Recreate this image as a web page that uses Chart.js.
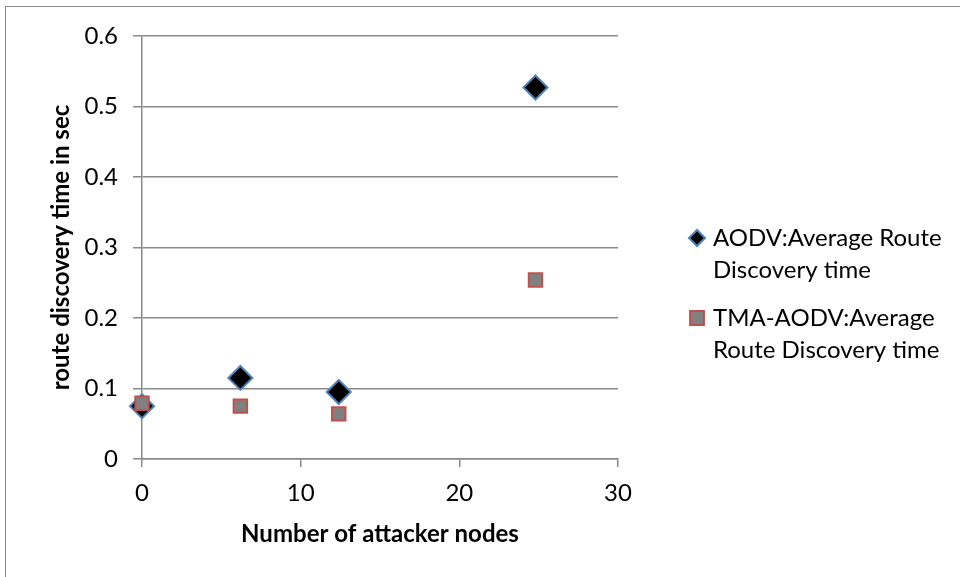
<!DOCTYPE html>
<html>
<head>
<meta charset="utf-8">
<script src="https://cdn.jsdelivr.net/npm/chart.js@4.4.1/dist/chart.umd.min.js"></script>
<style>
  html, body { margin: 0; padding: 0; background: #fff; }
  #wrap { position: relative; width: 960px; height: 577px; }
</style>
</head>
<body>
<div id="wrap"><canvas id="c" width="960" height="577"></canvas></div>
<script>
// Attacker node counts and average route discovery times (seconds)
const attackerNodes = [0, 6.2, 12.4, 24.8];
const aodvTimes = [0.075, 0.115, 0.095, 0.527];
const tmaAodvTimes = [0.079, 0.075, 0.064, 0.254];

const seriesNames = [
  ['AODV:Average Route', 'Discovery time'],
  ['TMA-AODV:Average', 'Route Discovery time']
];
const yTickLabels = ['0', '0.1', '0.2', '0.3', '0.4', '0.5', '0.6'];
const xTitle = 'Number of attacker nodes';
const yTitle = 'route discovery time in sec';

const FONT = 'Lato, "Open Sans", sans-serif';
const GRID = '#898989';

const toPoints = (xs, ys) => xs.map((x, i) => ({ x: x, y: ys[i] }));

const styles = [
  { pointStyle: 'rectRot', backgroundColor: '#000000', borderColor: '#4f81bd', radius: 12, borderWidth: 2 },
  { pointStyle: 'rect', backgroundColor: '#808080', borderColor: '#c0504d', radius: 9.5, borderWidth: 2 }
];

// Frame around the chart and the wrapped legend on the right
const decorations = {
  id: 'decorations',
  beforeDraw(chart) {
    const ctx = chart.ctx;
    ctx.save();
    ctx.strokeStyle = '#8a8a8a';
    ctx.lineWidth = 1;
    ctx.strokeRect(5.5, 6.5, 1000, 1000);
    ctx.restore();
  },
  afterDraw(chart) {
    const ctx = chart.ctx;
    ctx.save();
    const legendX = 697, textX = 713;
    const entryTop = [238, 318];
    const lineGap = 32;
    const legendMarkers = [
      { pointStyle: 'rectRot', radius: 8, borderWidth: 2 },
      { pointStyle: 'rect', radius: 9.8, borderWidth: 2 }
    ];
    ctx.font = '24px ' + FONT;
    ctx.textAlign = 'left';
    ctx.textBaseline = 'middle';
    seriesNames.forEach((lines, i) => {
      ctx.fillStyle = styles[i].backgroundColor;
      ctx.strokeStyle = styles[i].borderColor;
      ctx.lineWidth = legendMarkers[i].borderWidth;
      Chart.helpers.drawPoint(ctx, {
        pointStyle: legendMarkers[i].pointStyle,
        radius: legendMarkers[i].radius,
        borderWidth: legendMarkers[i].borderWidth,
        rotation: 0
      }, legendX, entryTop[i]);
      ctx.fillStyle = '#000';
      lines.forEach((t, j) => ctx.fillText(t, textX, entryTop[i] + j * lineGap));
    });
    ctx.restore();
  }
};

new Chart(document.getElementById('c'), {
  type: 'scatter',
  data: {
    datasets: [
      {
        label: seriesNames[0].join(' '),
        data: toPoints(attackerNodes, aodvTimes),
        order: 1,
        clip: false,
        pointStyle: styles[0].pointStyle,
        backgroundColor: styles[0].backgroundColor,
        borderColor: styles[0].borderColor,
        pointRadius: styles[0].radius,
        pointHoverRadius: styles[0].radius,
        pointBorderWidth: styles[0].borderWidth
      },
      {
        label: seriesNames[1].join(' '),
        data: toPoints(attackerNodes, tmaAodvTimes),
        order: 0,
        clip: false,
        pointStyle: styles[1].pointStyle,
        backgroundColor: styles[1].backgroundColor,
        borderColor: styles[1].borderColor,
        pointRadius: styles[1].radius,
        pointHoverRadius: styles[1].radius,
        pointBorderWidth: styles[1].borderWidth
      }
    ]
  },
  options: {
    responsive: false,
    animation: false,
    events: [],
    layout: { padding: { left: 40, right: 342, top: 36, bottom: 0 } },
    plugins: {
      legend: { display: false },
      tooltip: { enabled: false }
    },
    scales: {
      x: {
        type: 'linear',
        min: 0,
        max: 30,
        ticks: {
          stepSize: 10,
          color: '#000',
          padding: 12,
          font: { family: FONT, size: 24 }
        },
        grid: {
          drawOnChartArea: false,
          drawTicks: true,
          tickLength: 8,
          color: GRID,
          lineWidth: 1.5
        },
        border: { display: true, color: GRID, width: 1.5 },
        title: {
          display: true,
          text: xTitle,
          color: '#000',
          font: { family: FONT, size: 24, weight: 'bold' },
          padding: { top: 0, bottom: 28 }
        },
        afterFit(scale) { scale.height = 118; }
      },
      y: {
        type: 'linear',
        min: 0,
        max: 0.6,
        ticks: {
          stepSize: 0.1,
          color: '#000',
          padding: 15,
          font: { family: FONT, size: 24 },
          callback: (v, i) => yTickLabels[i]
        },
        grid: {
          color: GRID,
          lineWidth: 1.5,
          drawTicks: true,
          tickLength: 9
        },
        border: { display: true, color: GRID, width: 1.5 },
        title: {
          display: true,
          text: yTitle,
          color: '#000',
          font: { family: FONT, size: 24, weight: 'bold' },
          padding: { top: 7, bottom: 0 }
        },
        afterFit(scale) { scale.width = 102; }
      }
    }
  },
  plugins: [decorations]
});
</script>
</body>
</html>
